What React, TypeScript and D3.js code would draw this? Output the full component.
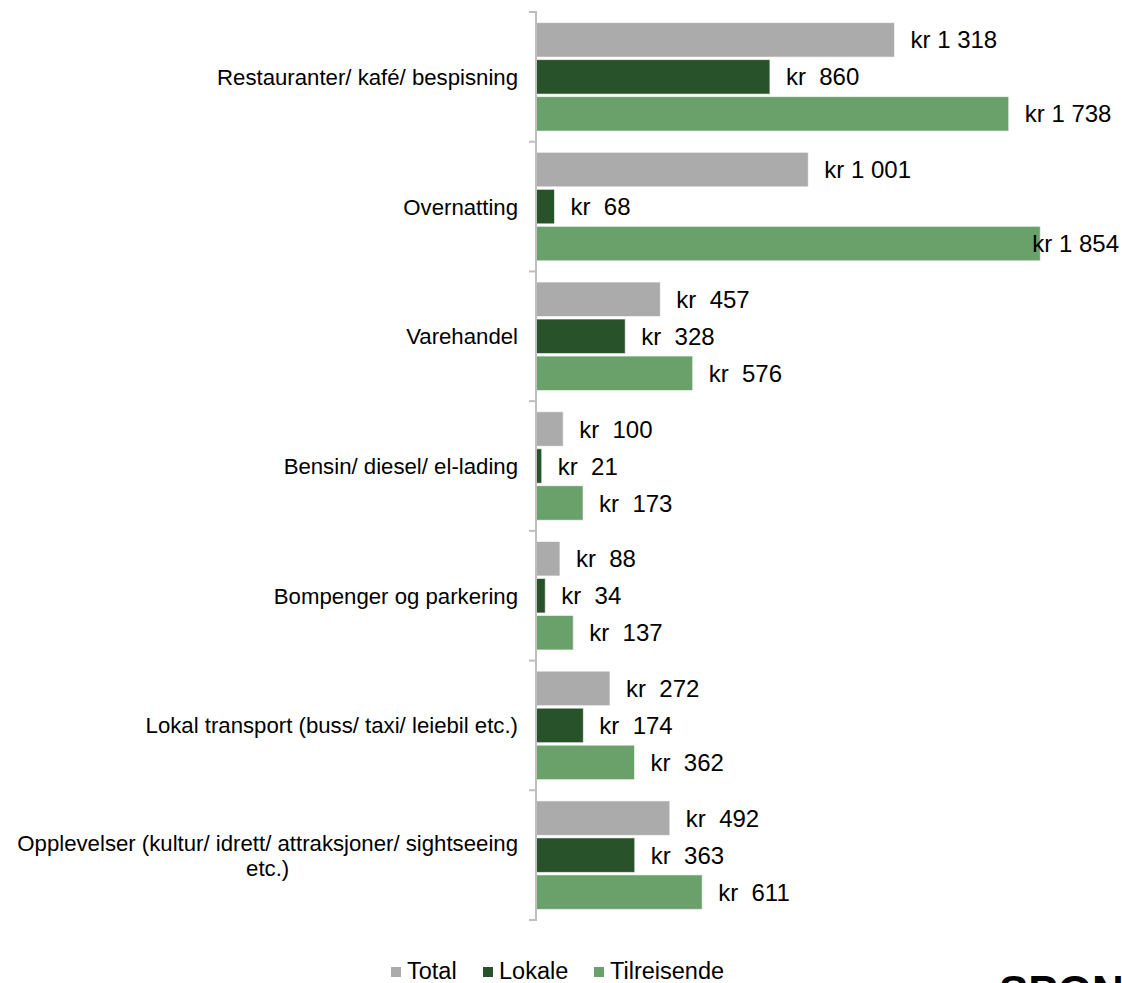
import React from 'react';
import * as d3 from 'd3';

const categories = [
  'Restauranter/ kafé/ bespisning',
  'Overnatting',
  'Varehandel',
  'Bensin/ diesel/ el-lading',
  'Bompenger og parkering',
  'Lokal transport (buss/ taxi/ leiebil etc.)',
  'Opplevelser (kultur/ idrett/ attraksjoner/ sightseeing etc.)',
];
const seriesNames = ['Total', 'Lokale', 'Tilreisende'];
const totalValues = [1318, 1001, 457, 100, 88, 272, 492];
const lokaleValues = [860, 68, 328, 21, 34, 174, 363];
const tilreisendeValues = [1738, 1854, 576, 173, 137, 362, 611];
const seriesColors = ['#ABABAB', '#285229', '#6AA06A'];
const xDomain = [0, 2000];

const FONT = '"Liberation Sans", Arial, sans-serif';

let ctx: CanvasRenderingContext2D | null = null;
function measure(text: string, size: number): number {
  if (!ctx) {
    const c = document.createElement('canvas');
    ctx = c.getContext('2d');
  }
  if (!ctx) return text.length * size * 0.5;
  ctx.font = `${size}px "Liberation Sans", Arial, sans-serif`;
  return ctx.measureText(text).width;
}

function wrap(text: string, size: number, maxW: number): string[] {
  const words = text.split(' ');
  const lines: string[] = [];
  let cur = '';
  for (const w of words) {
    const t = cur ? cur + ' ' + w : w;
    if (measure(t, size) > maxW && cur) {
      lines.push(cur);
      cur = w;
    } else cur = t;
  }
  if (cur) lines.push(cur);
  return lines;
}

function fmt(v: number): string {
  if (v >= 1000) return 'kr ' + d3.format(',')(v).replace(/,/g, ' ');
  return 'kr  ' + v;
}

export default function App() {
  const W = 1122;
  const H = 983;
  const series = [totalValues, lokaleValues, tilreisendeValues];

  const x = d3.scaleLinear().domain(xDomain).range([536, 1080]);
  const y = d3.scaleBand<string>().domain(categories).range([12, 920]).paddingInner(0).paddingOuter(0);
  const inner = d3
    .scaleBand<string>()
    .domain(seriesNames)
    .range([0, y.bandwidth()])
    .paddingInner(0.068)
    .paddingOuter(0.287);

  const catSize = 22.2;
  const valSize = 24;
  const labelRight = 518;
  const boundaries = [...categories.map((c) => y(c) as number), 920];

  return (
    <div style={{ position: 'absolute', left: 0, top: 0 }}>
      <svg width={W} height={H} style={{ display: 'block', background: '#fff' }} fontFamily={FONT}>
        {/* bars */}
        {categories.map((c, ci) => (
          <g key={c} transform={`translate(0,${y(c)})`}>
            {seriesNames.map((s, si) => {
              const v = series[si][ci];
              const y0 = inner(s) as number;
              return (
                <rect
                  key={s}
                  x={x(0)}
                  y={y0}
                  width={x(v) - x(0)}
                  height={inner.bandwidth()}
                  fill={seriesColors[si]}
                  stroke="#ffffff"
                  strokeOpacity={0.6}
                  strokeWidth={1}
                />
              );
            })}
          </g>
        ))}
        {/* axis */}
        <line x1={536} x2={536} y1={12} y2={920} stroke="#BFBFBF" strokeWidth={2} />
        {boundaries.map((b, i) => (
          <line key={i} x1={529} x2={537} y1={b} y2={b} stroke="#BFBFBF" strokeWidth={2} />
        ))}
        {/* value labels */}
        {categories.map((c, ci) => (
          <g key={c + 'l'} transform={`translate(0,${y(c)})`}>
            {seriesNames.map((s, si) => {
              const v = series[si][ci];
              const t = fmt(v);
              const w = measure(t, valSize);
              let lx = x(v) + 16;
              let anchor: 'start' | 'end' = 'start';
              if (lx + w > W - 2) {
                lx = W - 3;
                anchor = 'end';
              }
              const cy = (inner(s) as number) + inner.bandwidth() / 2;
              return (
                <text
                  key={s}
                  x={lx}
                  y={cy}
                  dy="0.36em"
                  fontSize={valSize}
                  textAnchor={anchor}
                  fill="#000"
                  style={{ whiteSpace: 'pre' }}
                >
                  {t}
                </text>
              );
            })}
          </g>
        ))}
        {/* category labels */}
        {categories.map((c) => {
          const lines = wrap(c, catSize, 505);
          const cy = (y(c) as number) + y.bandwidth() / 2;
          const lh = 25;
          if (lines.length === 1) {
            return (
              <text key={c + 'c'} x={labelRight} y={cy} dy="0.36em" fontSize={catSize} textAnchor="end" fill="#000">
                {c}
              </text>
            );
          }
          const maxW = Math.max(...lines.map((l) => measure(l, catSize)));
          const center = labelRight - maxW / 2;
          const startY = cy - ((lines.length - 1) * lh) / 2;
          return (
            <text key={c + 'c'} fontSize={catSize} textAnchor="middle" fill="#000">
              {lines.map((l, li) => (
                <tspan key={li} x={center} y={startY + li * lh} dy="0.36em">
                  {l}
                </tspan>
              ))}
            </text>
          );
        })}
        {/* legend */}
        {(() => {
          const pos = [391, 483, 594];
          return seriesNames.map((s, si) => (
            <g key={s + 'lg'}>
              <rect x={pos[si]} y={967} width={10} height={10} fill={seriesColors[si]} />
              <text x={pos[si] + 16} y={979} fontSize={23.5} fill="#000">
                {s}
              </text>
            </g>
          ));
        })()}
        {/* logo (cut off) */}
        <text x={999} y={1007} fontSize={44} fontWeight="bold" fill="#000" fontFamily={FONT}>
          SPON
        </text>
      </svg>
    </div>
  );
}
